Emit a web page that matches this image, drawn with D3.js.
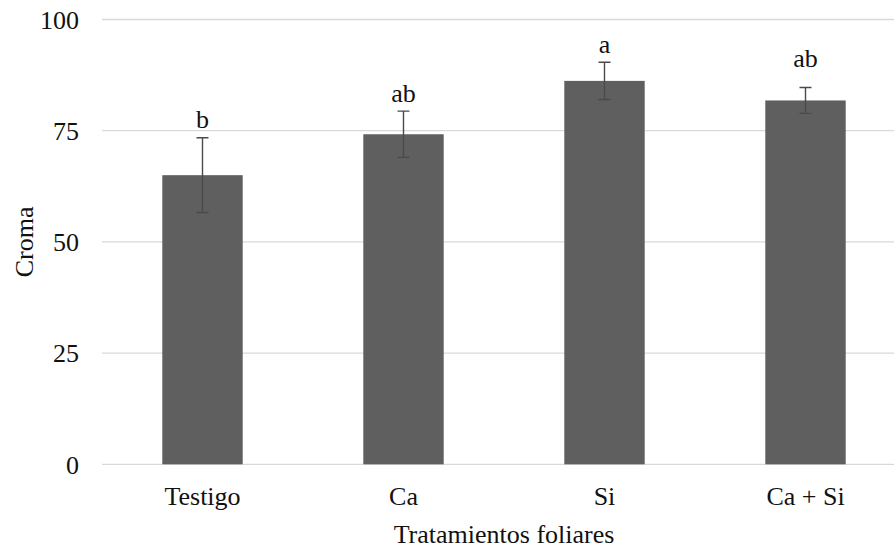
<!DOCTYPE html>
<html>
<head>
<meta charset="utf-8">
<script src="https://cdn.jsdelivr.net/npm/d3@7"></script>
<style>
  html, body { margin: 0; padding: 0; background: #fff; overflow: hidden; }
  svg text { font-family: "Times New Roman", "Liberation Serif", Tinos, serif !important; fill: #111; }
</style>
</head>
<body>
<svg id="chart" width="894" height="548"></svg>
<script>
"use strict";

// treatments and their mean chroma (+/- error)
var categories = ["Testigo", "Ca", "Si", "Ca + Si"];
var means = [65.0, 74.2, 86.2, 81.8];
var errors = [8.4, 5.2, 4.2, 2.9];
// significance letters and the height (data units) where they sit
var letters = ["b", "ab", "a", "ab"];
var letterAt = [75.5, 81.5, 92.4, 89.4];
var yTicks = [0, 25, 50, 75, 100];

var svg = d3.select("#chart");

var plotLeft = 102, plotRight = 906, plotTop = 19.5, plotBottom = 464.3;

var x = d3.scaleBand()
  .domain(categories)
  .range([plotLeft, plotRight])
  .padding(0);

var y = d3.scaleLinear()
  .domain([0, 100])
  .range([plotBottom, plotTop]);

var barW = x.bandwidth() * 0.4;
var cx = function(c) { return x(c) + x.bandwidth() / 2; };

// gridlines (including the baseline at 0)
var grid = svg.append("g").attr("class", "grid");
grid.selectAll("line")
  .data(yTicks)
  .enter().append("line")
  .attr("x1", plotLeft)
  .attr("x2", plotRight)
  .attr("y1", function(d) { return y(d); })
  .attr("y2", function(d) { return y(d); })
  .style("stroke", "#d9d9d9")
  .style("stroke-width", "1.3px");

// y axis tick labels, no domain line
var yAxis = d3.axisLeft(y)
  .tickValues(yTicks)
  .tickSize(0)
  .tickPadding(0);
var yg = svg.append("g")
  .attr("transform", "translate(79,0)")
  .call(yAxis);
yg.select(".domain").remove();
yg.selectAll("text")
  .style("font-size", "26px")
  .attr("fill", "#111")
  .attr("dy", "0.34em");

// bars
var rows = categories.map(function(c, i) {
  return {cat: c, mean: means[i], err: errors[i], letter: letters[i], ly: letterAt[i]};
});

svg.append("g").attr("class", "bars")
  .selectAll("rect")
  .data(rows)
  .enter().append("rect")
  .attr("x", function(d) { return cx(d.cat) - barW / 2; })
  .attr("width", barW)
  .attr("y", function(d) { return y(d.mean); })
  .attr("height", function(d) { return y(0) - y(d.mean); })
  .style("fill", "#5f5f5f");

// error bars
var eg = svg.append("g").attr("class", "errors")
  .style("stroke", "#4a4a4a")
  .style("stroke-width", "1.4px")
  .style("fill", "none");
var capW = 6;
eg.selectAll("path")
  .data(rows)
  .enter().append("path")
  .attr("d", function(d) {
    var c = cx(d.cat), t = y(d.mean + d.err), b = y(d.mean - d.err);
    return "M" + c + "," + t + "L" + c + "," + b +
      "M" + (c - capW) + "," + t + "L" + (c + capW) + "," + t +
      "M" + (c - capW) + "," + b + "L" + (c + capW) + "," + b;
  });

// significance letters
svg.append("g").attr("class", "letters")
  .selectAll("text")
  .data(rows)
  .enter().append("text")
  .attr("x", function(d) { return cx(d.cat); })
  .attr("y", function(d) { return y(d.ly); })
  .attr("text-anchor", "middle")
  .style("font-size", "26px")
  .text(function(d) { return d.letter; });

// category labels
var xAxis = d3.axisBottom(x).tickSize(0).tickPadding(0);
var xg = svg.append("g")
  .attr("transform", "translate(0," + plotBottom + ")")
  .call(xAxis);
xg.select(".domain").remove();
xg.selectAll("text")
  .style("font-size", "26px")
  .attr("fill", "#111")
  .attr("dy", null)
  .attr("y", 41);

// axis titles
svg.append("text")
  .attr("x", (plotLeft + plotRight) / 2)
  .attr("y", 542.5)
  .attr("text-anchor", "middle")
  .style("font-size", "26px")
  .text("Tratamientos foliares");

svg.append("text")
  .attr("transform", "translate(33," + ((plotTop + plotBottom) / 2) + ") rotate(-90)")
  .attr("text-anchor", "middle")
  .style("font-size", "26px")
  .text("Croma");
</script>
</body>
</html>
